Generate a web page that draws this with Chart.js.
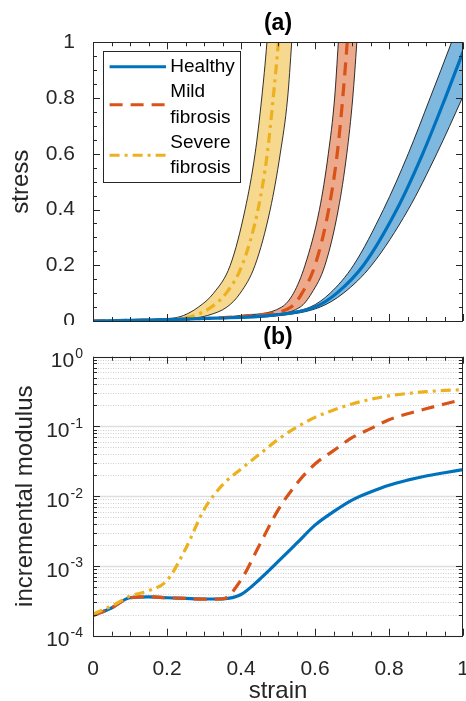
<!DOCTYPE html>
<html>
<head>
<meta charset="utf-8">
<script src="https://cdn.jsdelivr.net/npm/chart.js@4.4.1/dist/chart.umd.min.js"></script>
<style>
  body { margin: 0; background: #fff; }
  canvas { display: block; }
</style>
</head>
<body>
<canvas id="stressChart" width="466" height="325"></canvas>
<canvas id="modulusChart" width="466" height="376"></canvas>
<script>
// ---- data (a): strain at which each curve reaches the given stress level
const stressLevels = [0, 0.005, 0.01, 0.02, 0.05, 0.1, 0.2, 0.4, 0.6, 0.8, 1.0, 1.2, 2.0];
const healthyHi  = [0, 0.19, 0.31, 0.45, 0.587, 0.641, 0.704, 0.785, 0.852, 0.911, 0.969, 1.025, 1.2];
const healthyMid = [0, 0.20, 0.33, 0.48, 0.600, 0.659, 0.731, 0.821, 0.891, 0.952, 1.010, 1.070, 1.25];
const healthyLo  = [0, 0.21, 0.35, 0.51, 0.614, 0.677, 0.753, 0.852, 0.929, 0.998, 1.065, 1.130, 1.3];
const mildHi     = [0, 0.19, 0.30, 0.40, 0.510, 0.542, 0.573, 0.612, 0.636, 0.653, 0.663, 0.672, 0.73];
const mildMid    = [0, 0.20, 0.32, 0.43, 0.535, 0.565, 0.600, 0.637, 0.660, 0.675, 0.687, 0.697, 0.75];
const mildLo     = [0, 0.21, 0.34, 0.46, 0.560, 0.591, 0.627, 0.663, 0.686, 0.702, 0.713, 0.722, 0.77];
const severeHi   = [0, 0.17, 0.215, 0.245, 0.285, 0.326, 0.371, 0.411, 0.438, 0.456, 0.470, 0.480, 0.56];
const severeMid  = [0, 0.19, 0.24, 0.275, 0.320, 0.360, 0.403, 0.446, 0.471, 0.487, 0.501, 0.512, 0.57];
const severeLo   = [0, 0.21, 0.27, 0.31, 0.362, 0.398, 0.438, 0.479, 0.506, 0.526, 0.537, 0.546, 0.59];

// ---- data (b): incremental modulus vs strain
const strainGrid = [0, 0.05, 0.1, 0.15, 0.2, 0.25, 0.3, 0.35, 0.4, 0.45, 0.5, 0.55, 0.6, 0.65, 0.7, 0.75, 0.8, 0.85, 0.9, 0.95, 1.0];
const healthyMod = [1.95e-4, 2.5e-4, 3.5e-4, 3.6e-4, 3.5e-4, 3.42e-4, 3.36e-4, 3.38e-4, 3.9e-4, 6.4e-4, 1.15e-3, 2.1e-3, 3.85e-3, 6.0e-3, 8.8e-3, 1.15e-2, 1.44e-2, 1.7e-2, 1.95e-2, 2.17e-2, 2.4e-2];
const mildMod    = [1.95e-4, 2.5e-4, 3.5e-4, 3.6e-4, 3.5e-4, 3.42e-4, 3.34e-4, 3.36e-4, 6.3e-4, 2.0e-3, 6.3e-3, 1.5e-2, 2.9e-2, 4.5e-2, 6.9e-2, 9.3e-2, 0.125, 0.152, 0.179, 0.21, 0.245];
const severeMod  = [2.05e-4, 2.65e-4, 3.7e-4, 4.4e-4, 6.2e-4, 1.75e-3, 6.4e-3, 1.45e-2, 2.45e-2, 4.0e-2, 6.5e-2, 9.7e-2, 0.135, 0.172, 0.21, 0.245, 0.275, 0.297, 0.315, 0.328, 0.336];

const seriesNames = ['Healthy', 'Mild fibrosis', 'Severe fibrosis'];

// ---- styles
const ff = "'Liberation Sans', Arial, Helvetica, sans-serif";
const axisColor = '#262626';
const seriesColors = ['#0072BD', '#D95319', '#EDB120'];
const bandColors = ['rgba(0,114,189,0.5)', 'rgba(217,83,25,0.5)', 'rgba(237,177,32,0.5)'];
const dashes = [[], [13, 8], [10, 5, 3, 5]];

Chart.defaults.font.family = ff;
Chart.defaults.color = axisColor;

const toPts = (xs, ys) => xs.map((x, i) => ({x: x, y: ys[i]}));
const tickText = v => String(Math.round(v * 10) / 10);

// matlab-like box, inward ticks, log grid, panel title, legend
const matlabAxes = {
    id: 'matlabAxes',
    beforeDatasetsDraw(chart, args, o) {
        if (!o.logGrid) return;
        const {ctx, chartArea: a} = chart;
        const y = chart.scales.y;
        ctx.save();
        for (let e = -4; e <= 0; e++) {
            for (let m = 1; m <= 9; m++) {
                if (e === 0 && m > 1) break;
                const py = Math.round(y.getPixelForValue(m * Math.pow(10, e))) + 0.5;
                ctx.beginPath();
                if (m === 1) {
                    ctx.setLineDash([]);
                    ctx.strokeStyle = '#dedede';
                    ctx.lineWidth = 1.6;
                } else {
                    ctx.setLineDash([1, 1.5]);
                    ctx.strokeStyle = '#cfcfcf';
                    ctx.lineWidth = 1;
                }
                ctx.moveTo(a.left, py);
                ctx.lineTo(a.right, py);
                ctx.stroke();
            }
        }
        ctx.restore();
    },
    afterDatasetsDraw(chart, args, o) {
        if (!o.legend) return;
        const ctx = chart.ctx, a = chart.chartArea;
        const bx = a.left + 10, by = a.top + 8.7, bw = 137.3, bh = 130.7;
        ctx.save();
        ctx.fillStyle = '#fff';
        ctx.fillRect(bx, by, bw, bh);
        ctx.strokeStyle = axisColor;
        ctx.lineWidth = 1;
        ctx.strokeRect(Math.round(bx) + 0.5, Math.round(by) + 0.5, Math.round(bw), Math.round(bh));
        ctx.font = '19px ' + ff;
        ctx.textAlign = 'left';
        ctx.textBaseline = 'middle';
        let row = 0;
        const step = 25.3, y0 = by + 15.7;
        seriesNames.forEach(function (name, k) {
            const lines = k === 0 ? [name] : name.split(' ');
            const ly = y0 + step * (row + (lines.length - 1) / 2);
            ctx.beginPath();
            ctx.strokeStyle = seriesColors[k];
            ctx.lineWidth = 3;
            ctx.setLineDash(dashes[k]);
            ctx.moveTo(bx + 6.6, ly);
            ctx.lineTo(bx + 63, ly);
            ctx.stroke();
            ctx.setLineDash([]);
            ctx.fillStyle = '#000';
            lines.forEach(function (t, j) {
                ctx.fillText(t, bx + 67.3, y0 + step * (row + j));
            });
            row += lines.length;
        });
        ctx.restore();
    },
    afterDraw(chart, args, o) {
        const {ctx, chartArea: a, scales: {x, y}} = chart;
        ctx.save();
        ctx.strokeStyle = axisColor;
        ctx.lineWidth = 1;
        const seg = function (x1, y1, x2, y2) {
            ctx.beginPath();
            ctx.moveTo(x1, y1);
            ctx.lineTo(x2, y2);
            ctx.stroke();
        };
        // x ticks, 0.05 minor / 0.2 major
        for (let i = 0; i <= 20; i++) {
            const px = Math.round(x.getPixelForValue(i * 0.05)) + 0.5;
            const len = i % 4 === 0 ? 7 : 4;
            seg(px, a.bottom, px, a.bottom - len);
            seg(px, a.top, px, a.top + len);
        }
        // y ticks
        if (o.logGrid) {
            for (let e = -4; e <= 0; e++) {
                for (let m = 1; m <= 9; m++) {
                    if (e === 0 && m > 1) break;
                    const py = Math.round(y.getPixelForValue(m * Math.pow(10, e))) + 0.5;
                    const len = m === 1 ? 7 : 4;
                    seg(a.left, py, a.left + len, py);
                    seg(a.right, py, a.right - len, py);
                }
            }
            // 10^n labels
            ctx.fillStyle = axisColor;
            ctx.textAlign = 'right';
            ctx.textBaseline = 'middle';
            for (let e = -4; e <= 0; e++) {
                const py = y.getPixelForValue(Math.pow(10, e));
                const ex = String(e);
                ctx.font = '14px ' + ff;
                const w = ctx.measureText(ex).width;
                ctx.fillText(ex, a.left - 10, py - 2.5);
                ctx.font = '21px ' + ff;
                ctx.fillText('10', a.left - 10 - w - 1, py + 5);
            }
        } else {
            for (let i = 0; i <= 20; i++) {
                const py = Math.round(y.getPixelForValue(i * 0.05)) + 0.5;
                const len = i % 4 === 0 ? 7 : 4;
                seg(a.left, py, a.left + len, py);
                seg(a.right, py, a.right - len, py);
            }
        }
        // box
        ctx.strokeRect(Math.round(a.left) + 0.5, Math.round(a.top) + 0.5,
            Math.round(a.right - a.left) - 1, Math.round(a.bottom - a.top));
        // panel title
        if (o.title) {
            ctx.fillStyle = '#000';
            ctx.font = 'bold 23px ' + ff;
            ctx.textAlign = 'center';
            ctx.textBaseline = 'middle';
            ctx.fillText(o.title, (a.left + a.right) / 2, a.top - 18.7);
        }
        ctx.restore();
    }
};

const baseOptions = {
    responsive: false,
    devicePixelRatio: 1,
    animation: false,
    elements: {
        point: {radius: 0, hoverRadius: 0},
        line: {cubicInterpolationMode: 'monotone', capBezierPoints: false, borderCapStyle: 'butt'}
    },
    events: []
};

// ---- (a) stress
const hiSets = [healthyHi, mildHi, severeHi];
const loSets = [healthyLo, mildLo, severeLo];
const midSets = [healthyMid, mildMid, severeMid];
const stressDatasets = [];
seriesNames.forEach(function (name, k) {
    stressDatasets.push({
        data: toPts(hiSets[k], stressLevels),
        borderColor: '#000', borderWidth: 0.8,
        backgroundColor: bandColors[k], fill: '+1', order: 1
    });
    stressDatasets.push({
        data: toPts(loSets[k], stressLevels),
        borderColor: '#000', borderWidth: 0.8, fill: false, order: 1
    });
});
seriesNames.forEach(function (name, k) {
    stressDatasets.push({
        label: name,
        data: toPts(midSets[k], stressLevels),
        borderColor: seriesColors[k], borderWidth: 3.2, borderDash: dashes[k],
        fill: false, order: 0
    });
});

new Chart(document.getElementById('stressChart'), {
    type: 'line',
    data: {datasets: stressDatasets},
    options: Object.assign({}, baseOptions, {
        layout: {padding: {top: 42.3, right: 3, bottom: 4, left: 0}},
        plugins: {
            legend: {display: false},
            tooltip: {enabled: false},
            filler: {drawTime: 'beforeDatasetsDraw'},
            matlabAxes: {title: '(a)', legend: true}
        },
        scales: {
            x: {type: 'linear', min: 0, max: 1, display: false},
            y: {
                type: 'linear', min: 0, max: 1,
                grid: {display: false}, border: {display: false},
                ticks: {stepSize: 0.2, padding: 10, font: {size: 21}, color: axisColor, callback: tickText},
                title: {display: true, text: 'stress', font: {size: 24}, color: axisColor, padding: {top: 6.6, bottom: 0}},
                afterFit: function (s) { s.width = 93; s.paddingTop = 0; s.paddingBottom = 0; }
            }
        }
    }),
    plugins: [matlabAxes]
});

// ---- (b) incremental modulus
const modSets = [healthyMod, mildMod, severeMod];
new Chart(document.getElementById('modulusChart'), {
    type: 'line',
    data: {
        datasets: seriesNames.map(function (name, k) {
            return {
                label: name,
                data: toPts(strainGrid, modSets[k]),
                borderColor: seriesColors[k], borderWidth: 3.2, borderDash: dashes[k],
                fill: false, order: 2 - k
            };
        })
    },
    options: Object.assign({}, baseOptions, {
        layout: {padding: {top: 31.7, right: 3, bottom: 0, left: 0}},
        plugins: {
            legend: {display: false},
            tooltip: {enabled: false},
            matlabAxes: {title: '(b)', logGrid: true}
        },
        scales: {
            x: {
                type: 'linear', min: 0, max: 1,
                grid: {display: false}, border: {display: false},
                ticks: {stepSize: 0.2, padding: 13, font: {size: 21}, color: axisColor, maxRotation: 0, autoSkip: false, callback: tickText},
                title: {display: true, text: 'strain', font: {size: 24, lineHeight: 0.8}, color: axisColor, padding: 0},
                afterFit: function (s) { s.height = 65.3; s.paddingLeft = 0; s.paddingRight = 0; }
            },
            y: {
                type: 'logarithmic', min: 1e-4, max: 1,
                grid: {display: false}, border: {display: false},
                ticks: {display: false},
                title: {display: true, text: 'incremental modulus', font: {size: 24}, color: axisColor, padding: {top: 10.6, bottom: 0}},
                afterFit: function (s) { s.width = 93; s.paddingTop = 0; s.paddingBottom = 0; }
            }
        }
    }),
    plugins: [matlabAxes]
});
</script>
</body>
</html>
